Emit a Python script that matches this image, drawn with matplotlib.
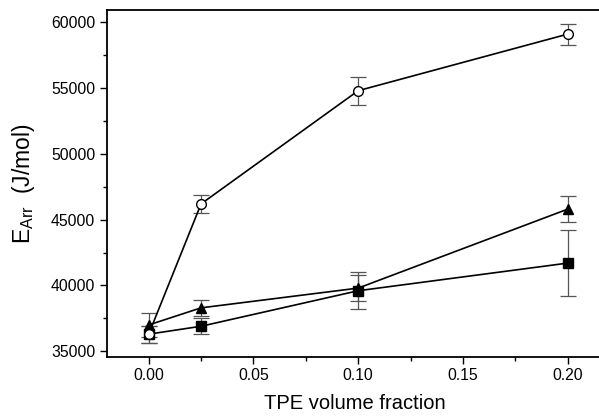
import matplotlib
matplotlib.use("Agg")
import matplotlib.pyplot as plt
from matplotlib.ticker import MultipleLocator

plt.rcParams['font.family'] = ['Liberation Sans', 'DejaVu Sans']

x = [0.0, 0.025, 0.10, 0.20]
circle_y = [36300, 46200, 54800, 59100]
circle_err = [650, 700, 1050, 800]
tri_y = [37000, 38300, 39800, 45800]
tri_err = [900, 600, 1000, 1000]
sq_y = [36300, 36900, 39600, 41700]
sq_err = [650, 600, 1400, 2500]

fig = plt.figure(figsize=(5.99, 4.17), dpi=100)
ax = fig.add_axes([107/599, 0.145, 496/599, 0.83])

ecol = '#555555'
for y, e, m, fc in [(sq_y, sq_err, 's', 'black'), (tri_y, tri_err, '^', 'black'),
                    (circle_y, circle_err, 'o', 'white')]:
    ax.errorbar(x, y, yerr=e, fmt='none', ecolor=ecol, elinewidth=0.9, capsize=6, capthick=0.9, zorder=2)
    ax.plot(x, y, color='black', lw=1.2, marker=m, markersize=7, markerfacecolor=fc,
            markeredgecolor='black', markeredgewidth=1.0, zorder=3)

ax.set_xlim(-0.0199, -0.0199 + 496 / 2095)
ax.set_ylim(34600, 60900)
ax.xaxis.set_major_locator(MultipleLocator(0.05))
ax.xaxis.set_minor_locator(MultipleLocator(0.025))
ax.yaxis.set_major_locator(MultipleLocator(5000))
ax.yaxis.set_minor_locator(MultipleLocator(2500))
ax.set_xticks([0.0, 0.05, 0.10, 0.15, 0.20])
ax.set_xticklabels(['0.00', '0.05', '0.10', '0.15', '0.20'])
ax.tick_params(which='both', direction='out', top=False, right=False, labelsize=11.3, width=1)
ax.tick_params(which='major', length=5)
ax.tick_params(which='minor', length=3)
for s in ax.spines.values():
    s.set_linewidth(1.3)
ax.spines['right'].set_visible(False)

ax.set_xlabel('TPE volume fraction', fontsize=14.5, labelpad=8)
ax.set_ylabel(r'E$_{\mathregular{Arr}}$  (J/mol)', fontsize=16.5, labelpad=10)

fig.savefig('out.png', dpi=100)
